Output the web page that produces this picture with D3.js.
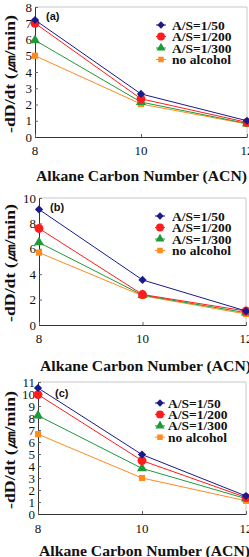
<!DOCTYPE html>
<html>
<head>
<meta charset="utf-8">
<script src="https://d3js.org/d3.v7.min.js"></script>
<style>
  body { margin: 0; background: #fff; }
  svg { display: block; }
  .tick-label { font-family: "Liberation Serif", "DejaVu Serif", serif; font-size: 13px; fill: #111; }
  .title { font-family: "Liberation Serif", serif; font-weight: bold; fill: #111; }
  .legend { font-family: "Liberation Serif", serif; font-weight: bold; font-size: 13.5px; fill: #111; }
  .panel-label { font-family: "Liberation Sans", Arial, sans-serif; font-weight: bold; font-size: 11px; fill: #111; }
</style>
</head>
<body>
<div id="chart"></div>
<script>
// data
const acn = [8, 10, 12];
const seriesNames = ["A/S=1/50", "A/S=1/200", "A/S=1/300", "no alcohol"];
const panelA = [[7.2, 2.65, 1.0], [7.0, 2.35, 0.9], [5.95, 2.15, 0.83], [5.0, 2.03, 0.8]];
const panelB = [[9.1, 3.55, 1.1], [7.6, 2.4, 1.1], [6.5, 2.35, 0.97], [5.7, 2.3, 0.87]];
const panelC = [[10.5, 4.95, 1.5], [9.95, 4.45, 1.38], [8.2, 3.8, 1.28], [6.65, 3.0, 1.1]];
const panelNames = ["(a)", "(b)", "(c)"];
const yMaxes = [8, 10, 11];
const yTickSteps = [1, 2, 1];

const colors = ["#1a1a8a", "#ff1c1c", "#1f9a3a", "#ff8a1e"];
const symbols = [d3.symbolSquare, d3.symbolCircle, d3.symbolTriangle, d3.symbolSquare];
const symSizes = [34, 62, 44, 38];
const symRot = [45, 0, 0, 0];

// layout of the three panels (pixels)
const layout = [
  { x0: 35, x1: 247, yTop: 7, yBot: 137, xLab: 155, xTitle: 181, yTitleC: 74, lab: [46, 20], leg: [161, 172, 25, 11.5] },
  { x0: 39, x1: 246, yTop: 198, yBot: 325, xLab: 343, xTitle: 371, yTitleC: 263, lab: [50, 211], leg: [160, 172, 216, 11.5] },
  { x0: 38, x1: 246, yTop: 382, yBot: 514, xLab: 533, xTitle: 556, yTitleC: 450, lab: [55, 397], leg: [160, 168, 403, 11.4] }
];
const panels = [panelA, panelB, panelC];

const svg = d3.select("#chart").append("svg")
  .attr("width", 249).attr("height", 557);

panels.forEach((data, p) => {
  const L = layout[p];
  const g = svg.append("g");
  const x = d3.scaleLinear().domain([8, 12]).range([L.x0, L.x1]);
  const y = d3.scaleLinear().domain([0, yMaxes[p]]).range([L.yBot, L.yTop]);

  // light frame top/right
  g.append("line").attr("x1", L.x0).attr("x2", L.x1).attr("y1", L.yTop).attr("y2", L.yTop)
    .attr("stroke", "#c8c8c8").attr("stroke-width", 1);
  g.append("line").attr("x1", L.x1).attr("x2", L.x1).attr("y1", L.yTop).attr("y2", L.yBot)
    .attr("stroke", "#c8c8c8").attr("stroke-width", 1);

  // y axis, ticks pointing inward
  const yTicks = d3.range(0, yMaxes[p] + 0.001, yTickSteps[p]);
  const yAxis = g.append("g").attr("transform", `translate(${L.x0},0)`)
    .call(d3.axisRight(y).tickValues(yTicks).tickSize(3).tickSizeOuter(0).tickFormat(""));
  yAxis.select(".domain").attr("stroke", "#333");
  yAxis.selectAll(".tick line").attr("stroke", "#666");
  g.selectAll(".ylab").data(yTicks).enter().append("text")
    .attr("class", "tick-label")
    .attr("x", L.x0 - 3).attr("y", d => y(d) + 4.5)
    .attr("text-anchor", "end").text(d => d);

  // x axis
  const xAxis = g.append("g").attr("transform", `translate(0,${L.yBot})`)
    .call(d3.axisTop(x).tickValues(acn).tickSize(3).tickSizeOuter(0).tickFormat(""));
  xAxis.select(".domain").attr("stroke", "#333");
  xAxis.selectAll(".tick line").attr("stroke", "#666");
  g.selectAll(".xlab").data(acn).enter().append("text")
    .attr("class", "tick-label")
    .attr("x", d => x(d)).attr("y", L.xLab)
    .attr("text-anchor", "middle").text(d => d);

  // titles
  g.append("text").attr("class", "title")
    .attr("x", L.x0 + 1).attr("y", L.xTitle)
    .attr("font-size", 15.5)
    .attr("textLength", 211).attr("lengthAdjust", "spacingAndGlyphs")
    .text("Alkane Carbon Number (ACN)");
  g.append("text").attr("class", "title")
    .attr("transform", `translate(15,${L.yTitleC}) rotate(-90)`)
    .attr("text-anchor", "middle").attr("font-size", 15)
    .attr("textLength", 118).attr("lengthAdjust", "spacingAndGlyphs")
    .text("-dD/dt (㎛/min)");

  g.append("text").attr("class", "panel-label")
    .attr("x", L.lab[0]).attr("y", L.lab[1]).text(panelNames[p]);

  // series (draw last series first so blue is on top)
  const line = d3.line().x((d, i) => x(acn[i])).y(d => y(d));
  for (let s = data.length - 1; s >= 0; s--) {
    g.append("path").datum(data[s])
      .attr("d", line).attr("fill", "none")
      .attr("stroke", colors[s]).attr("stroke-width", 1);
    g.selectAll(".m" + s).data(data[s]).enter().append("path")
      .attr("d", d3.symbol().type(symbols[s]).size(symSizes[s]))
      .attr("transform", (d, i) => `translate(${x(acn[i])},${y(d)}) rotate(${symRot[s]})`)
      .attr("fill", colors[s]);
  }

  // legend
  const [mx, tx, ly0, dy] = L.leg;
  seriesNames.forEach((name, s) => {
    const yy = ly0 + s * dy;
    g.append("line").attr("x1", mx - 5).attr("x2", mx + 5).attr("y1", yy).attr("y2", yy)
      .attr("stroke", colors[s]).attr("stroke-width", 1);
    g.append("path")
      .attr("d", d3.symbol().type(symbols[s]).size(symSizes[s] * 0.8))
      .attr("transform", `translate(${mx},${yy}) rotate(${symRot[s]})`)
      .attr("fill", colors[s]);
    g.append("text").attr("class", "legend")
      .attr("x", tx).attr("y", yy + 4.5).text(name);
  });
});
</script>
</body>
</html>
